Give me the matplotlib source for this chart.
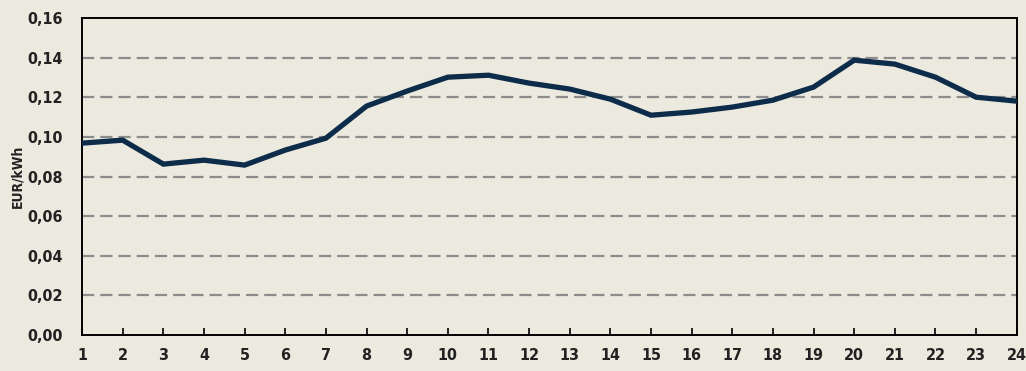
import matplotlib.pyplot as plt
from matplotlib.ticker import FuncFormatter

plt.rcParams['font.family'] = ['DejaVu Sans']
plt.rcParams['font.stretch'] = 'condensed'
plt.rcParams['font.weight'] = 'bold'
plt.rcParams['axes.labelweight'] = 'bold'

hours = list(range(1, 25))
price = [0.0969, 0.0984, 0.0863, 0.0883, 0.0858, 0.0934, 0.0994, 0.1156,
         0.1232, 0.1302, 0.1312, 0.1272, 0.1242, 0.1191, 0.1110, 0.1126,
         0.1151, 0.1186, 0.1252, 0.1388, 0.1368, 0.1302, 0.1201, 0.1181]
y_ticks = [0.00, 0.02, 0.04, 0.06, 0.08, 0.10, 0.12, 0.14, 0.16]

bg = '#ECE9DF'
fig = plt.figure(figsize=(10.26, 3.71), dpi=100, facecolor=bg)
ax = fig.add_axes([0.080, 0.097, 0.911, 0.854], facecolor=bg)

# dashed horizontal guides, skipping the frame edges
for v in y_ticks[1:-1]:
    ax.axhline(v, color='#8C8C8C', lw=1.6, dashes=(5.5, 2.7), zorder=1)

ax.plot(hours, price, color='#0D2C4A', lw=3.8, solid_joinstyle='miter', zorder=3)

ax.set_xlim(1, 24)
ax.set_ylim(0, 0.16)
ax.set_xticks(hours)
ax.set_yticks(y_ticks)
ax.yaxis.set_major_formatter(FuncFormatter(lambda v, p: f'{v:.2f}'.replace('.', ',')))
ax.tick_params(axis='x', direction='in', length=5, width=1.2, labelsize=11.5, pad=9,
               labelcolor='#222222')
ax.tick_params(axis='y', length=0, labelsize=11.5, pad=14, labelcolor='#222222')
ax.set_ylabel('EUR/kWh', fontsize=10, labelpad=2, color='#222222')
for s in ax.spines.values():
    s.set_linewidth(1.4)

fig.savefig('out.png', dpi=100, facecolor=bg)
